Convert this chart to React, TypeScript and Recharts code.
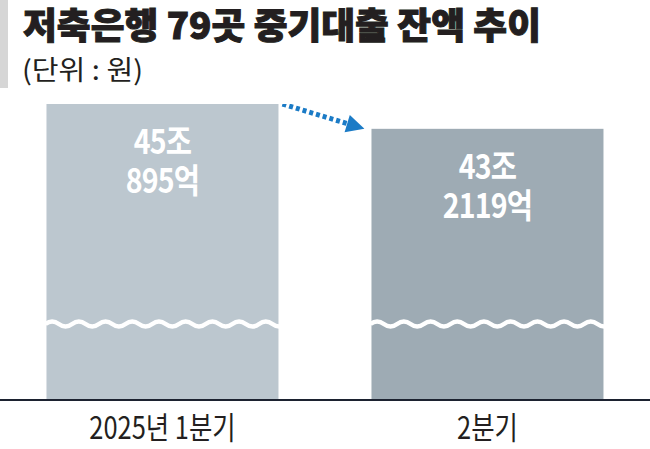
import { BarChart, Bar, XAxis, YAxis, Cell, LabelList } from "recharts";

// 저축은행 79곳 중기대출 잔액 (조 + 억)
const quarters = ["2025년 1분기", "2분기"];
const trillionPart = [45, 43];
const hundredMillionPart = [895, 2119];
const barColors = ["#bcc7cf", "#9eabb4"];

// axis is broken (wave), so it doesn't start at zero
const Y_MIN = 22.7;
const CATEGORY_GAP = 0.143;

const data = quarters.map((q, i) => ({
  quarter: q,
  balance: trillionPart[i] + hundredMillionPart[i] / 10000,
  jo: trillionPart[i],
  eok: hundredMillionPart[i],
}));

const KR = '"Noto Sans CJK KR", "Noto Sans", sans-serif';

function wavePath(x0: number, x1: number, yc: number) {
  const half = 13.35;
  let d = `M ${x0} ${yc}`;
  let up = true;
  for (let px = x0; px < x1; px += half) {
    d += ` q ${half / 2} ${up ? -5 : 5} ${half} 0`;
    up = !up;
  }
  return d;
}

const BarShape = (props: any) => {
  const { x, y, width, height, index, fill } = props;
  const bottom = y + height;
  const waveY = bottom - 76;

  let arrow = null;
  if (index === 0 && data.length > 1) {
    // next bar geometry from the same scale
    const gap = (width * 2 * CATEGORY_GAP) / (1 - 2 * CATEGORY_GAP);
    const nextX = x + width + gap;
    const nextTop =
      bottom - (height * (data[1].balance - Y_MIN)) / (data[0].balance - Y_MIN);
    const sx = x + width + 4;
    const sy = y;
    const tx = nextX - 7;
    const ty = nextTop;
    const len = Math.hypot(tx - sx, ty - sy);
    const ux = (tx - sx) / len;
    const uy = (ty - sy) / len;
    const bx = tx - ux * 18;
    const by = ty - uy * 18;
    arrow = (
      <g>
        <line
          x1={sx}
          y1={sy}
          x2={bx}
          y2={by}
          stroke="#1b7bc6"
          strokeWidth={5}
          strokeDasharray="4 3"
        />
        <polygon
          points={`${tx},${ty} ${bx - uy * 9},${by + ux * 9} ${bx + uy * 9},${by - ux * 9}`}
          fill="#1b7bc6"
        />
      </g>
    );
  }

  return (
    <g>
      <rect x={x} y={y} width={width} height={height} fill={fill} />
      <path
        d={wavePath(x - 1, x + width + 3, waveY)}
        fill="none"
        stroke="#ffffff"
        strokeWidth={4.5}
      />
      {arrow}
    </g>
  );
};

const ValueLabel = (props: any) => {
  const { x, y, width, index } = props;
  const cx = x + width / 2;
  const d = data[index];
  const style = {
    fontFamily: KR,
    fontWeight: 700,
    fontSize: 34,
    fill: "#ffffff",
    letterSpacing: -1,
  };
  return (
    <g>
      <text
        transform={`translate(${cx}, ${y + 50}) scale(0.84, 1)`}
        textAnchor="middle"
        style={style}
      >
        {d.jo}조
      </text>
      <text
        transform={`translate(${cx}, ${y + 89}) scale(0.84, 1)`}
        textAnchor="middle"
        style={style}
      >
        {d.eok}억
      </text>
    </g>
  );
};

const QuarterTick = (props: any) => {
  const { x, y, payload } = props;
  return (
    <text
      transform={`translate(${x}, ${y + 31}) scale(0.82, 1)`}
      textAnchor="middle"
      style={{ fontFamily: KR, fontSize: 31, fontWeight: 400, fill: "#231f20" }}
    >
      {payload.value}
    </text>
  );
};

export default function App() {
  return (
    <div
      style={{
        position: "absolute",
        left: 0,
        top: 0,
        width: 650,
        height: 449,
        background: "#ffffff",
        overflow: "hidden",
      }}
    >
      <BarChart
        width={650}
        height={449}
        data={data}
        margin={{ top: 104, right: 0, left: 0, bottom: 0 }}
        barCategoryGap={`${CATEGORY_GAP * 100}%`}
      >
        <YAxis hide domain={[Y_MIN, data[0].balance]} allowDataOverflow />
        <XAxis
          dataKey="quarter"
          height={49}
          tickLine={false}
          axisLine={{ stroke: "#1c2230", strokeWidth: 2 }}
          tick={<QuarterTick />}
          interval={0}
        />
        <Bar
          dataKey="balance"
          shape={<BarShape />}
          isAnimationActive={false}
        >
          {data.map((_, i) => (
            <Cell key={i} fill={barColors[i]} />
          ))}
          <LabelList dataKey="balance" content={<ValueLabel />} />
        </Bar>
      </BarChart>
      <svg
        width={650}
        height={100}
        style={{ position: "absolute", left: 0, top: 0 }}
      >
        <rect x={0} y={0} width={8} height={88} fill="#d6d6d6" />
        <text
          x={23}
          y={39}
          textLength={518}
          lengthAdjust="spacingAndGlyphs"
          stroke="#231f20"
          strokeWidth={1}
          style={{ fontFamily: KR, fontWeight: 900, fontSize: 36, fill: "#231f20" }}
        >
          저축은행 79곳 중기대출 잔액 추이
        </text>
        <text
          x={22}
          y={80}
          textLength={121}
          lengthAdjust="spacingAndGlyphs"
          style={{ fontFamily: KR, fontWeight: 400, fontSize: 27, fill: "#231f20" }}
        >
          (단위 : 원)
        </text>
      </svg>
    </div>
  );
}
